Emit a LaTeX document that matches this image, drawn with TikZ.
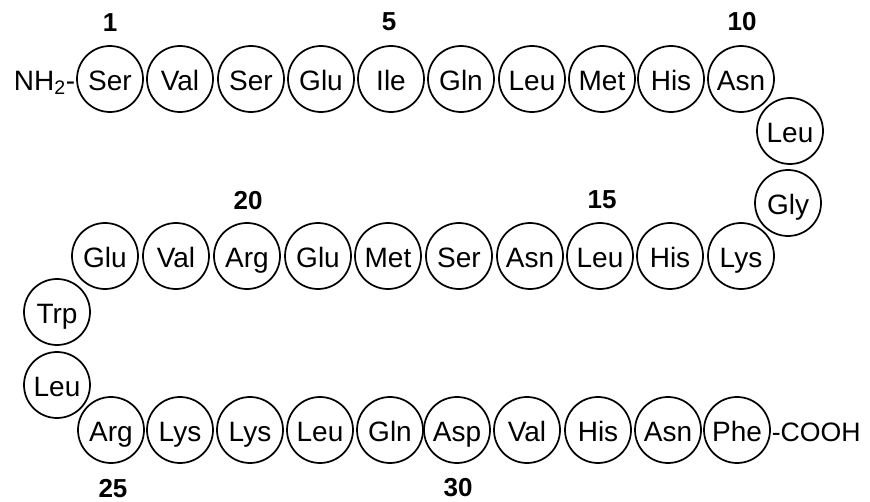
\documentclass[tikz,border=0pt]{standalone}
\usepackage{fontspec}
\setmainfont{Liberation Sans}
\usetikzlibrary{positioning}

\begin{document}
\begin{tikzpicture}[
  x=0.75pt, y=-0.75pt,
  every node/.style={font=\fontsize{21}{24}\selectfont},
  res/.style={draw, circle, line width=1.3pt, minimum size=49.5pt,
              inner sep=0pt, text height=17pt, text depth=0pt},
  term/.style={inner sep=0.5pt, text height=17pt, text depth=0pt},
  num/.style={font=\fontsize{19.5}{22}\selectfont\bfseries},
]
\useasboundingbox (0,0) rectangle (870,502);

% row 1
\node[res] (ser1)  at (110,79) {Ser};
\node[res] (val2)  at (180,79) {Val};
\node[res] (ser3)  at (251,79) {Ser};
\node[res] (glu4)  at (321,79) {Glu};
\node[res] (ile5)  at (391,79) {Ile};
\node[res] (gln6)  at (461,79) {Gln};
\node[res] (leu7)  at (532,79) {Leu};
\node[res] (met8)  at (602,79) {Met};
\node[res] (his9)  at (671,79) {His};
\node[res] (asn10) at (741,79) {Asn};

% turn right
\node[res] (leu11) at (790,131) {Leu};
\node[res] (gly12) at (788,203) {Gly};

% row 2
\node[res] (lys13) at (741,256) {Lys};
\node[res] (his14) at (670,256) {His};
\node[res] (leu15) at (600,256) {Leu};
\node[res] (asn16) at (530,256) {Asn};
\node[res] (ser17) at (459,256) {Ser};
\node[res] (met18) at (388,256) {Met};
\node[res] (glu19) at (318,256) {Glu};
\node[res] (arg20) at (247,256) {Arg};
\node[res] (val21) at (176,256) {Val};
\node[res] (glu22) at (105,256) {Glu};

% turn left
\node[res] (trp23) at (57,312) {Trp};
\node[res] (leu24) at (57,385) {Leu};

% row 3
\node[res] (arg25) at (111,430) {Arg};
\node[res] (lys26) at (180,430) {Lys};
\node[res] (lys27) at (250,430) {Lys};
\node[res] (leu28) at (320,430) {Leu};
\node[res] (gln29) at (390,430) {Gln};
\node[res] (asp30) at (457,430) {Asp};
\node[res] (val31) at (527,430) {Val};
\node[res] (his32) at (598,430) {His};
\node[res] (asn33) at (668,430) {Asn};
\node[res] (phe34) at (737,430) {Phe};

% ends
\node[term, anchor=east] (nterm) at (ser1.west) {NH\textsubscript{2}-};
\node[term, anchor=west, font=\fontsize{20}{24}\selectfont]
  (cterm) at (phe34.east) {-COOH};

% numbering
\node[num] (n1)  at (110,23)  {1};
\node[num] (n5)  at (389,22)  {5};
\node[num] (n10) at (742,22)  {10};
\node[num] (n15) at (602,200) {15};
\node[num] (n20) at (248,201) {20};
\node[num] (n25) at (113,489) {25};
\node[num] (n30) at (458,488) {30};
\end{tikzpicture}
\end{document}
